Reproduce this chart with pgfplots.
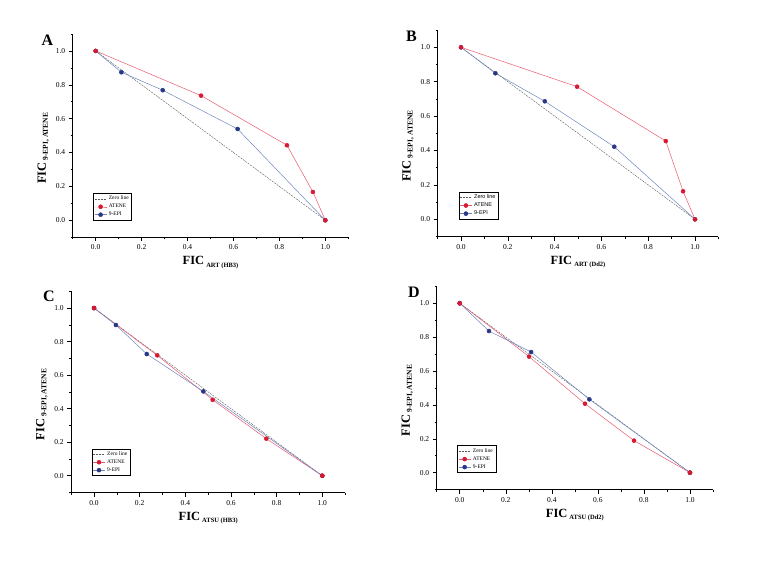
\documentclass[border=0pt]{standalone}
\usepackage{fontspec}
\setmainfont{Liberation Serif}
\newfontfamily\sansf{Liberation Sans}
\usepackage{pgfplots}
\pgfplotsset{compat=1.18}

\definecolor{cred}{RGB}{215,25,50}
\definecolor{cblue}{RGB}{40,55,135}
\definecolor{credl}{RGB}{232,90,110}
\definecolor{cbluel}{RGB}{110,135,190}
\definecolor{czero}{RGB}{90,90,90}

\pgfplotsset{
  zerostyle/.style={czero, line width=0.4pt, dash pattern=on 2pt off 1pt, no marks},
  atenestyle/.style={credl, line width=0.5pt, mark=*, mark size=2pt, mark options={solid, fill=cred, draw=cred}},
  epistyle/.style={cbluel, line width=0.5pt, mark=*, mark size=2pt, mark options={solid, fill=cblue, draw=cblue}},
  ficstyle/.style={
    scale only axis,
    xmin=-0.1, xmax=1.1, ymin=-0.1, ymax=1.1,
    axis lines=left, axis line style={-, line width=0.6pt, black},
    tick align=outside, major tick length=4pt, minor tick length=2pt,
    tick style={line width=0.5pt, black},
    xtick={0,0.2,0.4,0.6,0.8,1.0}, ytick={0,0.2,0.4,0.6,0.8,1.0},
    minor xtick={-0.1,0.1,0.3,0.5,0.7,0.9,1.1},
    minor ytick={-0.1,0.1,0.3,0.5,0.7,0.9,1.1},
    ticklabel style={font=\fontsize{7.5}{7.5}\selectfont},
    /pgf/number format/.cd, fixed, fixed zerofill, precision=1, assume math mode=true,
    /pgfplots/.cd,
    legend style={at={(axis cs:-0.01,0)}, anchor=south west,
      font=\fontsize{5.5}{6}\selectfont, draw=black, line width=0.4pt,
      inner sep=0.8pt, row sep=-1.2pt, cells={anchor=west}},
    legend image code/.code={\draw[mark repeat=2,mark phase=2,#1] plot coordinates {(0pt,0pt) (6pt,0pt) (12pt,0pt)};},
    ylabel style={at={(ticklabel cs:0.4375)}},
  }
}

\newcommand{\ficx}[1]{\bfseries\fontsize{12.5}{12.5}\selectfont FIC\,\raisebox{-0.45ex}{\fontsize{6.5}{6.5}\selectfont #1}}
\newcommand{\ficy}{\bfseries\fontsize{12.5}{12.5}\selectfont FIC\,\raisebox{-0.35ex}{\fontsize{7.5}{7.5}\selectfont 9-EPI, ATENE}}

\begin{document}
\begin{tikzpicture}
\useasboundingbox (0pt,0pt) rectangle (776pt,582pt);

% Panel A
\begin{axis}[ficstyle, at={(72.7pt,344.8pt)}, anchor=south west,
  width=275.6pt, height=203.2pt,
  xlabel={\ficx{ART (HB3)}}, ylabel={\ficy}]
\addlegendimage{zerostyle}\addlegendentry{Zero line}
\addlegendimage{atenestyle}\addlegendentry{ATENE}
\addlegendimage{epistyle}\addlegendentry{9-EPI}
\addplot[zerostyle, forget plot] coordinates {(0,1) (1,0)};
\addplot[epistyle, forget plot] coordinates {(0,1) (0.112,0.874) (0.292,0.768) (0.618,0.539) (1,0)};
\addplot[atenestyle, forget plot] coordinates {(0,1) (0.459,0.736) (0.833,0.443) (0.946,0.167) (1,0)};
\end{axis}

% Panel B
\begin{axis}[ficstyle, at={(437.6pt,345.5pt)}, anchor=south west,
  width=280.8pt, height=206.4pt,
  legend style={font=\sansf\fontsize{5.5}{6}\selectfont},
  xlabel={\ficx{ART (Dd2)}}, ylabel={\ficy}]
\addlegendimage{zerostyle}\addlegendentry{Zero line}
\addlegendimage{atenestyle}\addlegendentry{ATENE}
\addlegendimage{epistyle}\addlegendentry{9-EPI}
\addplot[zerostyle, forget plot] coordinates {(0,1) (1,0)};
\addplot[epistyle, forget plot] coordinates {(0,1) (0.147,0.849) (0.358,0.686) (0.655,0.422) (1,0)};
\addplot[atenestyle, forget plot] coordinates {(0,1) (0.496,0.771) (0.875,0.455) (0.949,0.163) (1,0)};
\end{axis}

% Panel C
\begin{axis}[ficstyle, at={(71.2pt,89.5pt)}, anchor=south west,
  width=273.9pt, height=201.2pt,
  xlabel={\ficx{ATSU (HB3)}}, ylabel={\ficy}]
\addlegendimage{zerostyle}\addlegendentry{Zero line}
\addlegendimage{atenestyle}\addlegendentry{ATENE}
\addlegendimage{epistyle}\addlegendentry{9-EPI}
\addplot[zerostyle, forget plot] coordinates {(0,1) (1,0)};
\addplot[atenestyle, forget plot] coordinates {(0,1) (0.277,0.718) (0.520,0.453) (0.755,0.221) (1,0)};
\addplot[epistyle, forget plot] coordinates {(0,1) (0.096,0.899) (0.231,0.726) (0.479,0.503) (1,0)};
\addplot[atenestyle, only marks, forget plot] coordinates {(0,1) (1,0)};
\end{axis}

% Panel D
\begin{axis}[ficstyle, at={(436.7pt,92.4pt)}, anchor=south west,
  width=276.3pt, height=203.3pt,
  xlabel={\ficx{ATSU (Dd2)}}, ylabel={\ficy}]
\addlegendimage{zerostyle}\addlegendentry{Zero line}
\addlegendimage{atenestyle}\addlegendentry{ATENE}
\addlegendimage{epistyle}\addlegendentry{9-EPI}
\addplot[zerostyle, forget plot] coordinates {(0,1) (1,0)};
\addplot[atenestyle, forget plot] coordinates {(0,1) (0.301,0.685) (0.544,0.407) (0.757,0.189) (1,0)};
\addplot[epistyle, forget plot] coordinates {(0,1) (0.127,0.836) (0.310,0.712) (0.563,0.433) (1,0)};
\addplot[atenestyle, only marks, forget plot] coordinates {(0,1) (1,0)};
\end{axis}

\node[font=\bfseries\fontsize{16}{16}\selectfont, inner sep=0pt] at (47.5pt,541.5pt) {A};
\node[font=\bfseries\fontsize{16}{16}\selectfont, inner sep=0pt] at (411.5pt,545.7pt) {B};
\node[font=\bfseries\fontsize{16}{16}\selectfont, inner sep=0pt] at (49pt,286pt) {C};
\node[font=\bfseries\fontsize{16}{16}\selectfont, inner sep=0pt] at (414pt,290pt) {D};
\end{tikzpicture}
\end{document}
